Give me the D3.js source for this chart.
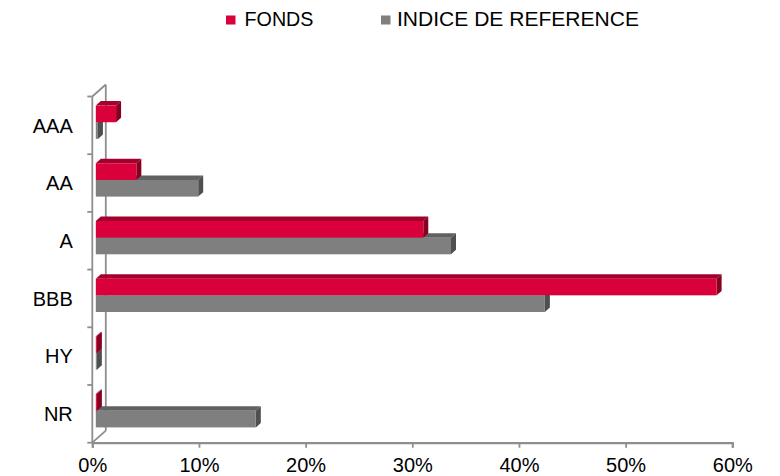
<!DOCTYPE html>
<html><head><meta charset="utf-8">
<script src="https://cdn.jsdelivr.net/npm/d3@7"></script>
<style>body{margin:0;background:#fff}svg{display:block}text{font-family:"Liberation Sans",Arial,sans-serif;fill:#000}</style>
</head><body><svg id="c" width="780" height="476"></svg>
<script>
const categories = ["AAA","AA","A","BBB","HY","NR"];
const seriesNames = ["FONDS","INDICE DE REFERENCE"];
const fonds = [0.019,0.038,0.307,0.582,0.001,0.001];
const indice = [0.002,0.096,0.333,0.421,0.001,0.150];
const xTicks = [0,0.1,0.2,0.3,0.4,0.5,0.6];

const frontCol = ["#d9003c","#7f7f7f"];
const topCol = ["#a3002d","#616161"];
const sideCol = ["#87001f","#4f4f4f"];

const svg = d3.select("#c");
const x0 = 92.3, x1 = 732.3, yTop = 96.5, yBot = 442.7;
const DX = 13.5, DY = -12;           // wall depth
const zF = 0.26, zB = 0.63;          // bar front / back depth fraction

const x = d3.scaleLinear().domain([0,0.6]).range([x0,x1]);
const y = d3.scaleBand().domain(categories).range([yTop,yBot]).padding(0);
const sub = d3.scaleBand().domain(seriesNames).range([0,y.bandwidth()]).paddingInner(0).paddingOuter(0.73);

const axisCol = "#8e8e8e";
const g = svg.append("g");
// walls
g.append("path").attr("d",`M${x0},${yTop}L${x0+DX},${yTop+DY}M${x0+DX},${yTop+DY}L${x0+DX},${yBot+DY}M${x0},${yBot}L${x0+DX},${yBot+DY}`)
  .attr("stroke",axisCol).attr("stroke-width",1.8).attr("fill","none");

// y axis (front)
const yAxis = d3.axisLeft(y).tickSize(0).tickPadding(19.5);
const ya = g.append("g").attr("transform",`translate(${x0},0)`).call(yAxis);
ya.select(".domain").remove();
ya.selectAll("text").style("font-size","20px").attr("font-family",null).attr("fill","#000").attr("dy","0.36em");
g.selectAll(".ytk").data(categories.concat(["_end"])).join("line")
  .attr("x1",x0-5).attr("x2",x0).attr("y1",(d,i)=>yTop+i*y.step()).attr("y2",(d,i)=>yTop+i*y.step())
  .attr("stroke",axisCol).attr("stroke-width",1.8);
g.append("line").attr("x1",x0).attr("x2",x0).attr("y1",yTop).attr("y2",yBot).attr("stroke",axisCol).attr("stroke-width",1.8);

// x axis
const xAxis = d3.axisBottom(x).tickValues(xTicks).tickFormat(d3.format(".0%")).tickSize(5).tickPadding(10);
const xa = g.append("g").attr("transform",`translate(0,${yBot})`).call(xAxis);
xa.select(".domain").attr("stroke",axisCol).attr("stroke-width",2.2);
xa.selectAll(".tick line").attr("stroke",axisCol).attr("stroke-width",1.8);
xa.selectAll("text").style("font-size","20px").attr("font-family",null).attr("fill","#000");

// bars
const data = [];
categories.forEach((c,i)=>{
  data.push({c, s:1, v:indice[i]});
  data.push({c, s:0, v:fonds[i]});
});
const fx = zF*DX, fy = zF*DY, bx = (zB-zF)*DX, by = (zB-zF)*DY;
const bars = g.selectAll(".bar").data(data).join("g");
bars.each(function(d){
  const sel = d3.select(this);
  const xl = x(0)+fx, xr = x(d.v)+fx;
  const yt = y(d.c)+sub(seriesNames[d.s])+fy, yb = yt+sub.bandwidth();
  sel.append("path").attr("d",`M${xl},${yt}L${xl+bx},${yt+by}L${xr+bx},${yt+by}L${xr},${yt}Z`).attr("fill",topCol[d.s]);
  sel.append("path").attr("d",`M${xr},${yt}L${xr+bx},${yt+by}L${xr+bx},${yb+by}L${xr},${yb}Z`).attr("fill",sideCol[d.s]);
  sel.append("rect").attr("x",xl).attr("y",yt).attr("width",Math.max(0,xr-xl)).attr("height",yb-yt).attr("fill",frontCol[d.s]);
});

// legend
const leg = [{n:seriesNames[0],sx:226,tx:244.5,w:69},{n:seriesNames[1],sx:381,tx:397,w:242}];
leg.forEach((l,i)=>{
  svg.append("rect").attr("x",l.sx).attr("y",15.5).attr("width",9.5).attr("height",9).attr("fill",frontCol[i]);
  svg.append("text").attr("x",l.tx).attr("y",25.5).style("font-size","20px")
    .attr("textLength",l.w).attr("lengthAdjust","spacingAndGlyphs").text(l.n);
});
</script></body></html>
